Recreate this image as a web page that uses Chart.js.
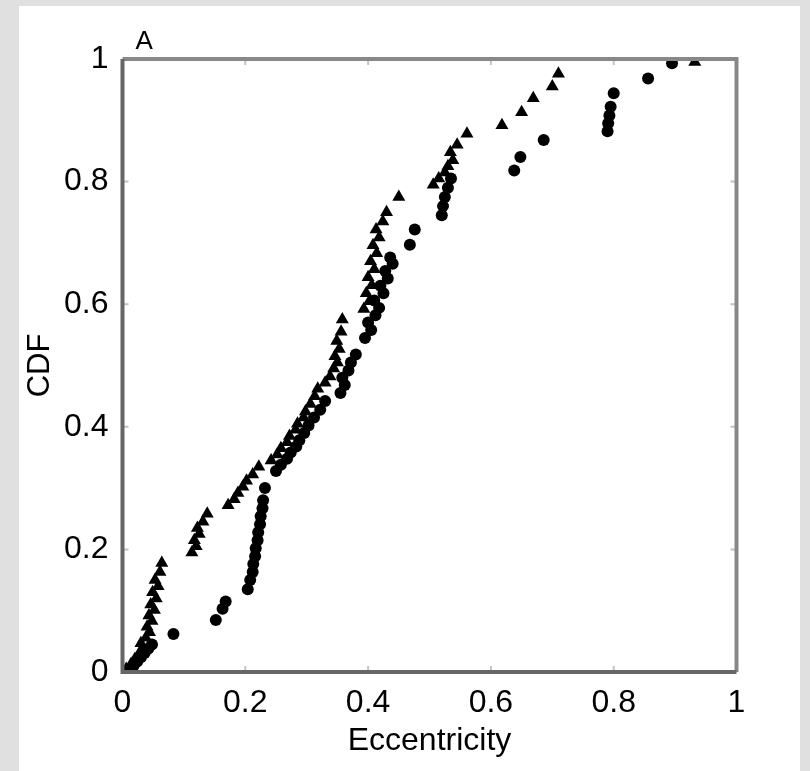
<!DOCTYPE html>
<html>
<head>
<meta charset="utf-8">
<script src="https://cdn.jsdelivr.net/npm/chart.js@4/dist/chart.umd.min.js"></script>
<style>
  body { margin: 0; background: #e0e0e0; width: 810px; height: 771px; overflow: hidden; }
  #panel { position: absolute; left: 19px; top: 6px; width: 781px; height: 765px; background: #fff; }
  #chart { position: absolute; left: 0; top: 0; }
</style>
</head>
<body>
<div id="panel"></div>
<canvas id="chart" width="810" height="771"></canvas>
<script>
// triangles (upper curve)
const triX = [0.006, 0.014, 0.020, 0.027, 0.033, 0.030, 0.038, 0.044, 0.040, 0.048, 0.043, 0.052, 0.046, 0.055, 0.049, 0.058, 0.053, 0.061, 0.064,
  0.113, 0.120, 0.117, 0.125, 0.122, 0.131, 0.138,
  0.172, 0.182, 0.188, 0.196, 0.202, 0.212, 0.222,
  0.242, 0.252, 0.258, 0.268, 0.272, 0.282, 0.285, 0.295, 0.298, 0.306, 0.313, 0.318, 0.330, 0.338,
  0.344, 0.350, 0.346, 0.353, 0.349, 0.356, 0.358,
  0.393, 0.402, 0.397, 0.406, 0.400, 0.410, 0.404, 0.414, 0.408, 0.418, 0.413, 0.424, 0.430, 0.450,
  0.506, 0.515, 0.525, 0.530, 0.538, 0.534, 0.545, 0.561,
  0.618, 0.650, 0.669, 0.700, 0.710, 0.932];
const triY = [0.005, 0.013, 0.021, 0.030, 0.038, 0.047, 0.056, 0.065, 0.074, 0.083, 0.092, 0.101, 0.110, 0.120, 0.130, 0.140, 0.150, 0.163, 0.178,
  0.195, 0.205, 0.215, 0.225, 0.235, 0.245, 0.258,
  0.272, 0.282, 0.292, 0.302, 0.312, 0.322, 0.335,
  0.345, 0.355, 0.365, 0.375, 0.385, 0.395, 0.405, 0.415, 0.425, 0.437, 0.450, 0.462, 0.472, 0.482,
  0.495, 0.505, 0.515, 0.527, 0.540, 0.555, 0.575,
  0.592, 0.605, 0.618, 0.631, 0.644, 0.657, 0.670, 0.683, 0.696, 0.709, 0.722, 0.735, 0.750, 0.775,
  0.795, 0.805, 0.815, 0.825, 0.835, 0.848, 0.860, 0.878,
  0.892, 0.913, 0.936, 0.955, 0.976, 0.995];

// circles (lower curve)
const circX = [0.010, 0.018, 0.024, 0.030, 0.036, 0.042, 0.048, 0.083,
  0.152, 0.163, 0.168, 0.204,
  0.208, 0.212, 0.213, 0.216, 0.217, 0.220, 0.221, 0.224, 0.225, 0.228, 0.229, 0.232,
  0.250, 0.258, 0.268, 0.274, 0.283, 0.288, 0.296, 0.303, 0.312, 0.322, 0.330,
  0.355, 0.362, 0.358, 0.368, 0.372, 0.380,
  0.395, 0.405, 0.400, 0.412, 0.418, 0.410, 0.425, 0.420, 0.432, 0.428, 0.440, 0.436,
  0.468, 0.476,
  0.520, 0.522, 0.525, 0.530, 0.535,
  0.638, 0.648, 0.686,
  0.790, 0.791, 0.793, 0.795, 0.800, 0.856, 0.895];
const circY = [0.003, 0.010, 0.017, 0.024, 0.031, 0.038, 0.045, 0.062,
  0.085, 0.103, 0.115, 0.135,
  0.150, 0.163, 0.176, 0.189, 0.202, 0.215, 0.228, 0.241, 0.254, 0.267, 0.280, 0.300,
  0.328, 0.338, 0.348, 0.358, 0.368, 0.378, 0.390, 0.402, 0.415, 0.428, 0.442,
  0.455, 0.468, 0.480, 0.492, 0.505, 0.518,
  0.545, 0.558, 0.570, 0.582, 0.594, 0.606, 0.618, 0.630, 0.642, 0.654, 0.666, 0.676,
  0.697, 0.722,
  0.745, 0.760, 0.775, 0.790, 0.805,
  0.818, 0.840, 0.868,
  0.882, 0.895, 0.908, 0.922, 0.944, 0.968, 0.993];

const tickValues = [0, 0.2, 0.4, 0.6, 0.8, 1];
const panelLabel = "A";

const toPoints = (xs, ys) => xs.map((x, i) => ({ x: x, y: ys[i] }));
const fmt = (v) => String(Number(v.toFixed(1)));

// frame, inward ticks and the panel letter
const framePlugin = {
  id: "frame",
  afterDraw(chart) {
    const ctx = chart.ctx;
    const { left, right, top, bottom } = chart.chartArea;
    const xs = chart.scales.x;
    const ys = chart.scales.y;
    ctx.save();
    ctx.strokeStyle = "#c4c4c4";
    ctx.lineWidth = 2;
    tickValues.slice(1, -1).forEach((v) => {
      const px = xs.getPixelForValue(v);
      const py = ys.getPixelForValue(v);
      ctx.beginPath();
      ctx.moveTo(px, bottom); ctx.lineTo(px, bottom - 6);
      ctx.moveTo(px, top); ctx.lineTo(px, top + 6);
      ctx.moveTo(left, py); ctx.lineTo(left + 6, py);
      ctx.moveTo(right, py); ctx.lineTo(right - 6, py);
      ctx.stroke();
    });
    ctx.lineWidth = 4;
    ctx.strokeStyle = "#888888";
    ctx.beginPath();
    ctx.moveTo(left, top); ctx.lineTo(right, top); ctx.lineTo(right, bottom);
    ctx.stroke();
    ctx.strokeStyle = "#666666";
    ctx.beginPath();
    ctx.moveTo(left, top); ctx.lineTo(left, bottom); ctx.lineTo(right, bottom);
    ctx.stroke();
    ctx.fillStyle = "#000";
    ctx.font = "26px 'Liberation Sans', Arial, sans-serif";
    ctx.textBaseline = "alphabetic";
    ctx.fillText(panelLabel, left + 13, top - 10);
    ctx.restore();
  },
};

const font = { family: "'Liberation Sans', Arial, sans-serif", size: 32 };

new Chart(document.getElementById("chart").getContext("2d"), {
  type: "scatter",
  data: {
    datasets: [
      {
        label: "triangles",
        data: toPoints(triX, triY),
        pointStyle: "triangle",
        pointRadius: 7.5,
        backgroundColor: "#000",
        borderWidth: 0,
      },
      {
        label: "circles",
        data: toPoints(circX, circY),
        pointStyle: "circle",
        pointRadius: 6,
        backgroundColor: "#000",
        borderWidth: 0,
      },
    ],
  },
  options: {
    responsive: false,
    animation: false,
    layout: { padding: { top: 59, right: 73.5, bottom: 0, left: 0 } },
    plugins: { legend: { display: false }, tooltip: { enabled: false } },
    scales: {
      x: {
        min: 0,
        max: 1,
        afterFit: (scale) => { scale.height = 99; },
        afterBuildTicks: (scale) => { scale.ticks = tickValues.map((v) => ({ value: v })); },
        grid: { display: false },
        border: { display: false },
        ticks: { color: "#000", font: font, padding: 4, maxRotation: 0, callback: fmt },
        title: { display: true, text: "Eccentricity", color: "#000", font: font, padding: { top: 0, bottom: 11 } },
      },
      y: {
        min: 0,
        max: 1,
        afterFit: (scale) => { scale.width = 122.5; },
        afterBuildTicks: (scale) => { scale.ticks = tickValues.map((v) => ({ value: v })); },
        grid: { display: false },
        border: { display: false },
        ticks: { color: "#000", font: font, padding: 6, callback: fmt },
        title: { display: true, text: "CDF", color: "#000", font: { family: font.family, size: 31 }, padding: { top: 22, bottom: 0 } },
      },
    },
  },
  plugins: [framePlugin],
});
</script>
</body>
</html>
